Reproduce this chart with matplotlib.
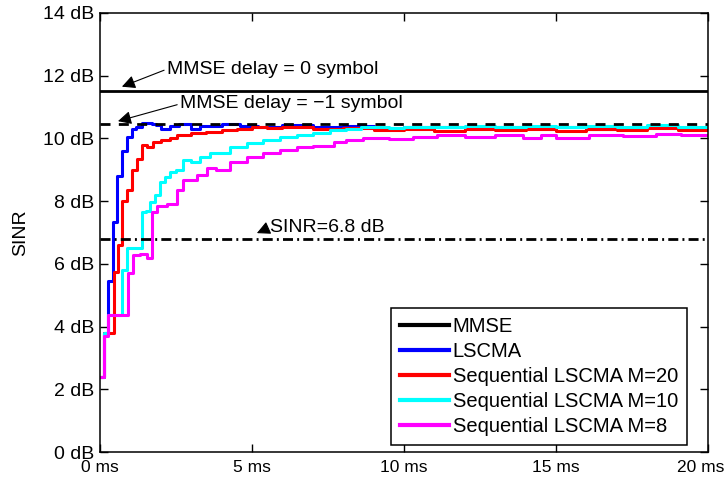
import matplotlib
matplotlib.use('Agg')
import matplotlib.pyplot as plt
from matplotlib.transforms import ScaledTranslation

plt.rcParams['font.family'] = ['Liberation Sans', 'DejaVu Sans']

# reference levels (dB)
mmse_level = 11.5
mmse_delay_level = 10.46
sinr_target = 6.8

# LSCMA
t_lscma = [0, 0.13, 0.27, 0.42, 0.57, 0.73, 0.88, 1.04, 1.2, 1.37, 1.7, 1.85, 2.0, 2.3,
           2.6, 3.0, 3.3, 4.0, 4.6, 5.2, 6.0, 7.0, 8.0, 9.0, 10.0, 11.0, 12.0, 13.0,
           14.0, 15.0, 16.0, 17.0, 18.0, 19.0, 20.0]
v_lscma = [2.4, 3.8, 5.45, 7.35, 8.8, 9.6, 10.05, 10.3, 10.35, 10.48, 10.45, 10.42, 10.3, 10.4,
           10.45, 10.3, 10.4, 10.45, 10.4, 10.35, 10.42, 10.35, 10.4, 10.32, 10.35, 10.38, 10.33, 10.36,
           10.32, 10.35, 10.3, 10.33, 10.35, 10.3, 10.3]

# Sequential LSCMA M=20
t_m20 = [0, 0.13, 0.46, 0.6, 0.73, 0.9, 1.04, 1.21, 1.37, 1.54, 1.75, 2.0, 2.3, 2.52, 3.0,
         3.5, 4.0, 4.5, 5.0, 5.5, 6.0, 7.0, 8.0, 9.0, 10.0, 11.0, 12.0, 13.0, 14.0, 15.0,
         16.0, 17.0, 18.0, 19.0, 20.0]
v_m20 = [2.4, 3.8, 5.75, 6.6, 8.0, 8.35, 9.0, 9.35, 9.8, 9.72, 9.9, 9.95, 10.02, 10.1, 10.17,
         10.22, 10.28, 10.3, 10.38, 10.32, 10.35, 10.3, 10.33, 10.28, 10.3, 10.25, 10.3, 10.27, 10.3, 10.25,
         10.3, 10.27, 10.32, 10.28, 10.3]

# Sequential LSCMA M=10
t_m10 = [0, 0.13, 0.27, 0.73, 0.9, 1.37, 1.5, 1.64, 1.8, 1.97, 2.14, 2.3, 2.5, 2.74, 3.0,
         3.29, 3.62, 3.9, 4.28, 4.82, 5.37, 5.92, 6.47, 7.0, 7.57, 8.1, 8.6, 9.5, 10.0, 11.0,
         12.0, 13.0, 14.0, 15.0, 16.0, 17.0, 18.0, 19.0, 20.0]
v_m10 = [2.4, 3.8, 4.37, 5.8, 6.5, 7.66, 7.7, 7.98, 8.2, 8.62, 8.78, 8.94, 9.0, 9.3, 9.25,
         9.4, 9.52, 9.55, 9.72, 9.84, 9.95, 10.06, 10.1, 10.16, 10.27, 10.3, 10.37, 10.33, 10.38, 10.35,
         10.4, 10.37, 10.4, 10.35, 10.4, 10.38, 10.42, 10.37, 10.4]

# Sequential LSCMA M=8
t_m8 = [0, 0.13, 0.27, 0.93, 1.1, 1.32, 1.54, 1.7, 1.86, 2.2, 2.52, 2.74, 3.18, 3.51, 3.8,
        4.28, 4.82, 5.37, 5.92, 6.47, 7.0, 7.7, 8.1, 8.66, 9.5, 10.3, 11.1, 12.0, 13.0, 13.9,
        14.5, 15.0, 16.1, 17.2, 18.3, 19.1, 20.0]
v_m8 = [2.4, 3.7, 4.37, 5.7, 6.28, 6.33, 6.18, 7.66, 7.85, 7.9, 8.35, 8.67, 8.83, 9.05, 9.0,
        9.26, 9.42, 9.52, 9.63, 9.73, 9.75, 9.89, 9.95, 10.0, 9.98, 10.03, 10.1, 10.05, 10.1, 10.02,
        10.1, 10.0, 10.1, 10.08, 10.15, 10.1, 10.1]

x_ticks = [0, 5, 10, 15, 20]
y_ticks = [0, 2, 4, 6, 8, 10, 12, 14]

fs = 14

fig = plt.figure(figsize=(7.25, 4.86), dpi=100)
ax = fig.add_axes([100 / 725, 34 / 486, 608 / 725, 439 / 486])

lw = 2.2
ax.plot([0, 20], [mmse_level, mmse_level], color='black', lw=2, zorder=5, label='MMSE')
ax.plot([0, 20], [mmse_delay_level, mmse_delay_level], color='black', lw=2,
        dashes=(3.6, 3.0), zorder=5)
ax.plot([0, 20], [sinr_target, sinr_target], color='black', lw=2,
        dashes=(3.6, 1.5, 0.7, 1.5), zorder=5)

ax.step(t_lscma, v_lscma, where='post', color='#0000ff', lw=lw, label='LSCMA')
ax.step(t_m20, v_m20, where='post', color='#ff0000', lw=lw, label='Sequential LSCMA M=20')
ax.step(t_m10, v_m10, where='post', color='#00ffff', lw=lw, label='Sequential LSCMA M=10')
ax.step(t_m8, v_m8, where='post', color='#ff00ff', lw=lw, label='Sequential LSCMA M=8')

arrow = dict(arrowstyle='-|>', color='black', lw=0.8, mutation_scale=20,
             shrinkA=0, shrinkB=0, relpos=(0, 0.5))
ax.annotate('MMSE delay = 0 symbol', xy=(0.72, 11.65), xytext=(2.2, 12.21),
            fontsize=fs, va='center', ha='left', arrowprops=arrow)
ax.annotate('MMSE delay = \u22121 symbol', xy=(0.59, 10.55), xytext=(2.63, 11.1),
            fontsize=fs, va='center', ha='left', arrowprops=arrow)
ax.annotate('SINR=6.8 dB', xy=(5.16, 6.98), xytext=(5.6, 7.17),
            fontsize=fs, va='center', ha='left', arrowprops=arrow)

ax.set_xlim(0, 20)
ax.set_ylim(0, 14)
ax.set_xticks(x_ticks)
ax.set_xticklabels([f'{v} ms' for v in x_ticks])
ax.set_yticks(y_ticks)
ax.set_yticklabels([f'{v} dB' for v in y_ticks])
ax.tick_params(direction='in', top=True, right=True, length=6, width=1,
               labelsize=fs, pad=4)
ax.tick_params(axis='x', labelsize=12.5, pad=6)
# last x label nudged left so it stays inside the figure
last = ax.get_xticklabels()[-1]
last.set_transform(last.get_transform() + ScaledTranslation(-0.07, 0, fig.dpi_scale_trans))
for s in ax.spines.values():
    s.set_linewidth(1.1)
ax.set_ylabel('SINR', fontsize=fs, labelpad=10)

leg = ax.legend(loc='lower right', bbox_to_anchor=(0.9655, 0.016), fontsize=14.5,
                frameon=True, fancybox=False, edgecolor='black', framealpha=1,
                handlelength=2.4, handletextpad=0.2, labelspacing=0.3,
                borderpad=0.45, borderaxespad=0)
leg.get_frame().set_linewidth(1.1)
for h in leg.get_lines():
    h.set_linewidth(3)

fig.savefig('out.png', dpi=100)
